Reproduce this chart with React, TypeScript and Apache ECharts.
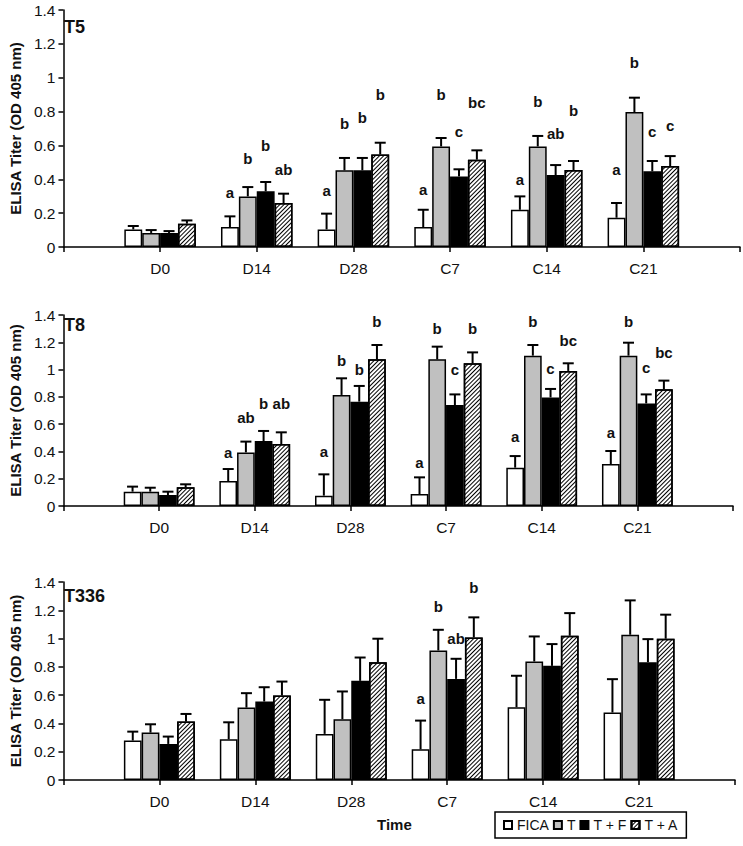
import React, { useEffect, useRef } from 'react';
import * as echarts from 'echarts';

const categories = ['D0', 'D14', 'D28', 'C7', 'C14', 'C21'];
const seriesNames = ['FICA', 'T', 'T + F', 'T + A'];
const yTicks = [0, 0.2, 0.4, 0.6, 0.8, 1, 1.2, 1.4];

// ---- T5 ----
const t5FICA = [0.104, 0.118, 0.104, 0.118, 0.22, 0.173];
const t5T = [0.083, 0.299, 0.453, 0.594, 0.594, 0.797];
const t5TF = [0.083, 0.329, 0.453, 0.417, 0.425, 0.447];
const t5TA = [0.138, 0.26, 0.547, 0.516, 0.455, 0.478];
const t5ErrFICA = [0.02, 0.063, 0.093, 0.102, 0.079, 0.087];
const t5ErrT = [0.017, 0.055, 0.073, 0.05, 0.062, 0.085];
const t5ErrTF = [0.011, 0.055, 0.073, 0.042, 0.059, 0.061];
const t5ErrTA = [0.019, 0.055, 0.069, 0.055, 0.053, 0.059];
const t5LetFICA = ['', 'a', 'a', 'a', 'a', 'a'];
const t5LetT = ['', 'b', 'b', 'b', 'b', 'b'];
const t5LetTF = ['', 'b', 'b', 'c', 'ab', 'c'];
const t5LetTA = ['', 'ab', 'b', 'bc', 'b', 'c'];
const t5LetYFICA = [0, 0.32, 0.335, 0.34, 0.398, 0.457];
const t5LetYT = [0, 0.52, 0.732, 0.9, 0.86, 1.089];
const t5LetYTF = [0, 0.597, 0.764, 0.68, 0.67, 0.68];
const t5LetYTA = [0, 0.46, 0.9, 0.856, 0.807, 0.72];

// ---- T8 ----
const t8FICA = [0.105, 0.183, 0.076, 0.088, 0.281, 0.308];
const t8T = [0.105, 0.393, 0.814, 1.075, 1.102, 1.102];
const t8TF = [0.08, 0.476, 0.765, 0.74, 0.796, 0.752];
const t8TA = [0.137, 0.454, 1.075, 1.046, 0.99, 0.855];
const t8ErrFICA = [0.037, 0.088, 0.156, 0.122, 0.085, 0.095];
const t8ErrT = [0.029, 0.079, 0.122, 0.093, 0.078, 0.095];
const t8ErrTF = [0.025, 0.074, 0.115, 0.078, 0.062, 0.066];
const t8ErrTA = [0.022, 0.086, 0.105, 0.08, 0.056, 0.064];
const t8LetFICA = ['', 'a', 'a', 'a', 'a', 'a'];
const t8LetT = ['', 'ab', 'b', 'b', 'b', 'b'];
const t8LetTF = ['', 'b', 'b', 'c', 'c', 'c'];
const t8LetTA = ['', 'ab', 'b', 'b', 'bc', 'bc'];
const t8LetYFICA = [0, 0.393, 0.398, 0.32, 0.508, 0.537];
const t8LetYT = [0, 0.647, 1.063, 1.302, 1.351, 1.351];
const t8LetYTF = [0, 0.748, 1.004, 1.004, 1.009, 1.016];
const t8LetYTA = [0, 0.748, 1.351, 1.302, 1.212, 1.124];

// ---- T336 ----
const t336FICA = [0.279, 0.288, 0.326, 0.217, 0.515, 0.477];
const t336T = [0.335, 0.512, 0.43, 0.916, 0.838, 1.027];
const t336TF = [0.255, 0.555, 0.701, 0.715, 0.807, 0.833];
const t336TA = [0.413, 0.597, 0.833, 1.008, 1.02, 0.999];
const t336ErrFICA = [0.063, 0.12, 0.241, 0.203, 0.222, 0.236];
const t336ErrT = [0.059, 0.102, 0.196, 0.146, 0.177, 0.243];
const t336ErrTF = [0.052, 0.101, 0.165, 0.142, 0.154, 0.163];
const t336ErrTA = [0.054, 0.099, 0.166, 0.142, 0.16, 0.17];
const t336LetFICA = ['', '', '', 'a', '', ''];
const t336LetT = ['', '', '', 'b', '', ''];
const t336LetTF = ['', '', '', 'ab', '', ''];
const t336LetTA = ['', '', '', 'b', '', ''];
const t336LetYFICA = [0, 0, 0, 0.574, 0, 0];
const t336LetYT = [0, 0, 0, 1.228, 0, 0];
const t336LetYTF = [0, 0, 0, 1.003, 0, 0];
const t336LetYTA = [0, 0, 0, 1.362, 0, 0];

const FONT = 'Arial, "Liberation Sans", Helvetica, sans-serif';

const panels = [
  {
    title: 'T5',
    means: [t5FICA, t5T, t5TF, t5TA],
    errs: [t5ErrFICA, t5ErrT, t5ErrTF, t5ErrTA],
    lets: [t5LetFICA, t5LetT, t5LetTF, t5LetTA],
    letY: [t5LetYFICA, t5LetYT, t5LetYTF, t5LetYTA],
    grid: { left: 58, top: 10, width: 686, height: 237 },
    titleY: 28,
  },
  {
    title: 'T8',
    means: [t8FICA, t8T, t8TF, t8TA],
    errs: [t8ErrFICA, t8ErrT, t8ErrTF, t8ErrTA],
    lets: [t8LetFICA, t8LetT, t8LetTF, t8LetTA],
    letY: [t8LetYFICA, t8LetYT, t8LetYTF, t8LetYTA],
    grid: { left: 58, top: 315, width: 675, height: 191 },
    titleY: 326,
  },
  {
    title: 'T336',
    means: [t336FICA, t336T, t336TF, t336TA],
    errs: [t336ErrFICA, t336ErrT, t336ErrTF, t336ErrTA],
    lets: [t336LetFICA, t336LetT, t336LetTF, t336LetTA],
    letY: [t336LetYFICA, t336LetYT, t336LetYTF, t336LetYTA],
    grid: { left: 57, top: 582, width: 678, height: 198 },
    titleY: 597,
  },
];

const BAR_FRAC = 0.185;

const barStyles: any[] = [
  { color: '#ffffff', borderColor: '#000', borderWidth: 1.5 },
  { color: '#c0c0c0', borderColor: '#000', borderWidth: 1.5 },
  { color: '#000000', borderColor: '#000', borderWidth: 1.5 },
  {
    color: '#ffffff',
    borderColor: '#000',
    borderWidth: 1.5,
    decal: {
      symbol: 'rect',
      symbolSize: 1,
      color: '#000',
      dashArrayX: [1, 0],
      dashArrayY: [1, 2],
      rotation: -Math.PI / 4,
    },
  },
];

export default function App() {
  const ref = useRef<HTMLDivElement>(null);
  useEffect(() => {
    if (!ref.current) return;
    const chart = echarts.init(ref.current, null, { renderer: 'svg' });
    const axisCats = ['', ...categories, ''];
    const grids: any[] = [];
    const xAxes: any[] = [];
    const yAxes: any[] = [];
    const series: any[] = [];
    const graphics: any[] = [];

    panels.forEach((p, i) => {
      grids.push({ ...p.grid, containLabel: false });
      xAxes.push({
        gridIndex: i,
        type: 'category',
        data: axisCats,
        boundaryGap: false,
        axisLine: { lineStyle: { color: '#000', width: 1.5 } },
        axisTick: { show: true, interval: 0, length: 5, lineStyle: { color: '#000', width: 1.5 } },
        axisLabel: { interval: 0, margin: 13, fontSize: 15.5, color: '#111', fontFamily: FONT },
        splitLine: { show: false },
      });
      yAxes.push({
        gridIndex: i,
        type: 'value',
        min: yTicks[0],
        max: yTicks[yTicks.length - 1],
        interval: 0.2,
        axisLine: { show: true, lineStyle: { color: '#000', width: 1.5 } },
        axisTick: { show: true, length: 5, lineStyle: { color: '#000', width: 1.5 } },
        axisLabel: { fontSize: 15.5, color: '#111', margin: 8, fontFamily: FONT },
        splitLine: { show: false },
        name: 'ELISA Titer (OD 405 nm)',
        nameLocation: 'middle',
        nameGap: 36,
        nameTextStyle: { fontSize: 15, fontWeight: 'bold', color: '#111', fontFamily: FONT },
      });
      seriesNames.forEach((name, g) => {
        series.push({
          type: 'bar',
          name,
          xAxisIndex: i,
          yAxisIndex: i,
          data: [null, ...p.means[g], null],
          barWidth: BAR_FRAC * 100 + '%',
          barGap: '0%',
          itemStyle: barStyles[g],
          emphasis: { disabled: true },
        });
      });
      const items: any[] = [];
      categories.forEach((_, c) => {
        for (let g = 0; g < 4; g++) {
          items.push({
            cat: c + 1,
            g,
            mean: p.means[g][c],
            err: p.errs[g][c],
            letter: p.lets[g][c],
            ly: p.letY[g][c],
          });
        }
      });
      series.push({
        type: 'custom',
        xAxisIndex: i,
        yAxisIndex: i,
        z: 5,
        data: items.map((it) => [it.cat, it.mean + it.err]),
        encode: { x: 0, y: 1 },
        renderItem: (params: any, api: any) => {
          const it = items[params.dataIndex];
          const c0 = api.coord([it.cat, 0]);
          const c1 = api.coord([it.cat + 1, 0]);
          const band = c1[0] - c0[0];
          const barW = band * BAR_FRAC;
          const x = c0[0] + (it.g - 1.5) * barW;
          const yTop = api.coord([it.cat, it.mean])[1];
          const yErr = api.coord([it.cat, it.mean + it.err])[1];
          const children: any[] = [
            { type: 'line', shape: { x1: x, y1: yTop, x2: x, y2: yErr }, style: { stroke: '#000', lineWidth: 2 } },
            { type: 'line', shape: { x1: x - 5.5, y1: yErr, x2: x + 5.5, y2: yErr }, style: { stroke: '#000', lineWidth: 2 } },
          ];
          if (it.letter) {
            children.push({
              type: 'text',
              x,
              y: api.coord([it.cat, it.ly])[1],
              style: {
                text: it.letter,
                fill: '#111',
                fontSize: 15,
                fontWeight: 'bold',
                fontFamily: FONT,
                align: 'center',
                verticalAlign: 'middle',
              },
            });
          }
          return { type: 'group', children };
        },
      });
      graphics.push({
        type: 'text',
        left: 64,
        top: p.titleY - 10,
        style: { text: p.title, fill: '#111', fontSize: 18, fontWeight: 'bold', fontFamily: FONT },
      });
    });

    graphics.push({
      type: 'text',
      left: 377,
      top: 817,
      style: { text: 'Time', fill: '#111', fontSize: 15, fontWeight: 'bold', fontFamily: FONT },
    });

    chart.setOption({
      animation: false,
      backgroundColor: '#fff',
      grid: grids,
      xAxis: xAxes,
      yAxis: yAxes,
      series,
      graphic: graphics,
      legend: {
        data: seriesNames,
        left: 495,
        top: 812,
        orient: 'horizontal',
        icon: 'rect',
        itemWidth: 8,
        itemHeight: 8,
        itemGap: 4,
        borderColor: '#000',
        borderWidth: 1.5,
        borderRadius: 0,
        padding: [6, 8],
        selectedMode: false,
        textStyle: { fontSize: 14, color: '#111', fontFamily: FONT },
      },
    });
    return () => chart.dispose();
  }, []);
  return (
    <div
      ref={ref}
      style={{ position: 'absolute', left: 0, top: 0, width: 743, height: 846, background: '#fff' }}
    />
  );
}
